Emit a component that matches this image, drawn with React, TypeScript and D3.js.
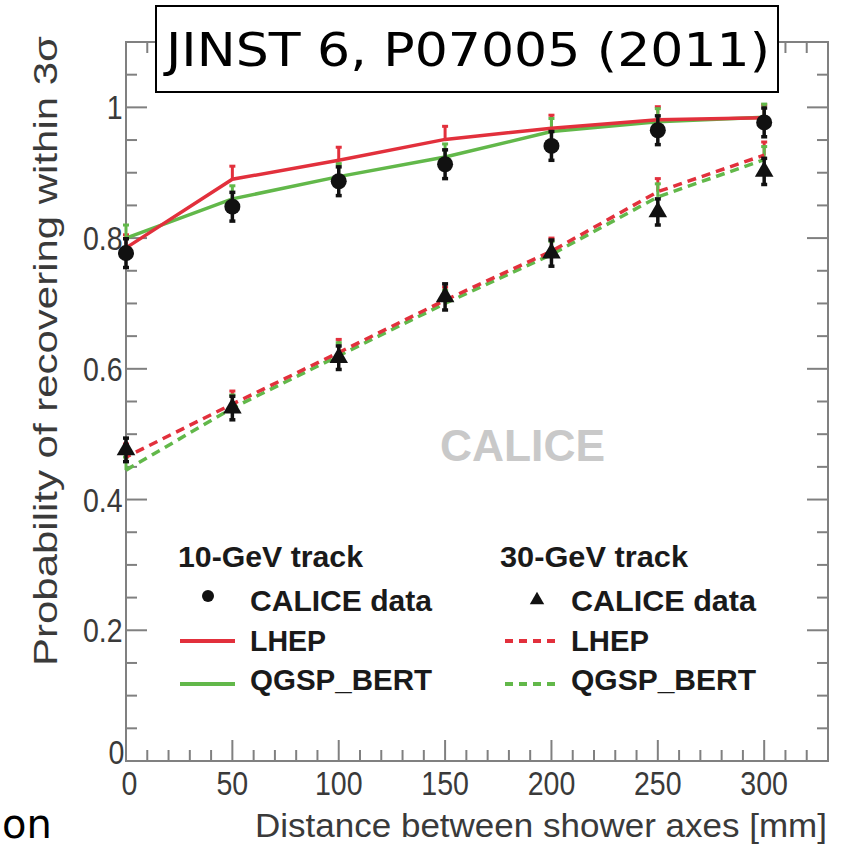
import React from 'react';
import * as d3 from 'd3';

// distance between shower axes [mm]
const distances = [0, 50, 100, 150, 200, 250, 300];

// 10-GeV track
const data10 = [0.777, 0.848, 0.887, 0.913, 0.941, 0.965, 0.977];
const data10Err = [0.022, 0.022, 0.022, 0.022, 0.022, 0.022, 0.022];
const lhep10 = [0.785, 0.89, 0.919, 0.951, 0.968, 0.981, 0.984];
const qgsp10 = [0.8, 0.86, 0.894, 0.924, 0.963, 0.978, 0.985];

// 30-GeV track
const data30 = [0.476, 0.54, 0.617, 0.71, 0.777, 0.84, 0.902];
const data30Err = [0.018, 0.018, 0.018, 0.02, 0.02, 0.02, 0.02];
const lhep30 = [0.465, 0.546, 0.625, 0.705, 0.78, 0.871, 0.927];
const qgsp30 = [0.445, 0.54, 0.62, 0.7, 0.775, 0.863, 0.92];

const simErr = [0.02, 0.02, 0.02, 0.02, 0.02, 0.02, 0.02];

const yTickLabels = ['0', '0.2', '0.4', '0.6', '0.8', '1'];
const xTickLabels = ['0', '50', '100', '150', '200', '250', '300'];

const RED = '#e2303c';
const GREEN = '#62b84a';
const AXIS = '#808080';
const LABEL = '#3a3a3a';
const FONT = '"Liberation Sans", Arial, sans-serif';

export default function App() {
  const width = 844;
  const height = 850;

  const x = d3.scaleLinear().domain([0, 330]).range([126, 828]);
  const y = d3.scaleLinear().domain([0, 1.1]).range([761, 42]);

  const [x0, x1] = x.range();
  const [yb, yt] = y.range();

  const line = d3
    .line<number>()
    .x((_, i) => x(distances[i]))
    .y((d) => y(d));

  const xMinor = d3.range(0, 331, 10);
  const yMinor = d3.range(0, 1.101, 0.05);

  const errBar = (vals: number[], errs: number[], color: string, w: number, key: string, up = true, down = true) =>
    vals.map((v, i) => {
      const cx = x(distances[i]);
      const top = y(v + (up ? errs[i] : 0));
      const bot = y(v - (down ? errs[i] : 0));
      return (
        <g key={`${key}-${i}`} stroke={color} strokeWidth={w}>
          <line x1={cx} x2={cx} y1={top} y2={bot} />
          {up && <line x1={cx - 3} x2={cx + 3} y1={top} y2={top} />}
          {down && <line x1={cx - 3} x2={cx + 3} y1={bot} y2={bot} />}
        </g>
      );
    });

  const tri = d3.symbol(d3.symbolTriangle, 150)();
  const triSmall = d3.symbol(d3.symbolTriangle, 90)();

  return (
    <svg
      width={width}
      height={height}
      viewBox={`0 0 ${width} ${height}`}
      style={{ position: 'absolute', left: 0, top: 0, background: '#fff' }}
    >
      {/* frame */}
      <rect x={x0} y={yt} width={x1 - x0} height={yb - yt} fill="none" stroke={AXIS} strokeWidth={2} />

      {/* x ticks, bottom and top */}
      {xMinor.map((t) => {
        const major = t % 50 === 0;
        const len = major ? 21 : 11;
        return (
          <g key={`xt${t}`} stroke={AXIS} strokeWidth={2}>
            <line x1={x(t)} x2={x(t)} y1={yb} y2={yb - len} />
            <line x1={x(t)} x2={x(t)} y1={yt} y2={yt + len} />
          </g>
        );
      })}

      {/* y ticks, left and right */}
      {yMinor.map((t, i) => {
        const major = i % 4 === 0;
        const len = major ? 21 : 11;
        return (
          <g key={`yt${i}`} stroke={AXIS} strokeWidth={2}>
            <line x1={x0} x2={x0 + len} y1={y(t)} y2={y(t)} />
            <line x1={x1} x2={x1 - len} y1={y(t)} y2={y(t)} />
          </g>
        );
      })}

      {/* y tick labels */}
      {yTickLabels.map((l, i) => (
        <text
          key={`yl${l}`}
          x={i === 0 ? x0 - 2 : x0 - 4}
          y={y(i * 0.2) + (i === 0 ? 3 : 12)}
          textAnchor="end"
          fontFamily={FONT}
          fontSize={34}
          fill={LABEL}
          transform={`translate(${x0},0) scale(0.84,1) translate(${-x0},0)`}
        >
          {l}
        </text>
      ))}

      {/* x tick labels */}
      {xTickLabels.map((l, i) => (
        <text
          key={`xl${l}`}
          x={x(distances[i]) + (i === 0 ? 4 : 0)}
          y={795}
          textAnchor="middle"
          fontFamily={FONT}
          fontSize={34}
          fill={LABEL}
          transform={`translate(${x(distances[i])},0) scale(0.84,1) translate(${-x(distances[i])},0)`}
        >
          {l}
        </text>
      ))}

      {/* axis titles */}
      <text x={255} y={837} fontFamily={FONT} fontSize={34} fill={LABEL} textLength={572} lengthAdjust="spacingAndGlyphs">
        Distance between shower axes [mm]
      </text>
      <text
        transform="translate(57,666) rotate(-90)"
        fontFamily={FONT}
        fontSize={34}
        fill={LABEL}
        textLength={630}
        lengthAdjust="spacingAndGlyphs"
      >
        Probability of recovering within 3σ
      </text>

      {/* watermark */}
      <text x={440} y={461} fontFamily={FONT} fontWeight="bold" fontSize={44} fill="#c9c9c9" textLength={165} lengthAdjust="spacingAndGlyphs">
        CALICE
      </text>

      {/* simulation error bars */}
      {errBar(lhep10, simErr, RED, 3, 'el10', true, false)}
      {errBar(qgsp10, simErr, GREEN, 3, 'eq10', true, false)}
      {errBar(lhep30, simErr, RED, 3, 'el30', true, false)}
      {errBar(qgsp30, simErr, GREEN, 3, 'eq30', true, false)}

      {/* simulation curves */}
      <path d={line(qgsp10) ?? ''} fill="none" stroke={GREEN} strokeWidth={3.5} />
      <path d={line(lhep10) ?? ''} fill="none" stroke={RED} strokeWidth={3.5} />
      <path d={line(qgsp30) ?? ''} fill="none" stroke={GREEN} strokeWidth={3.5} strokeDasharray="9 6" />
      <path d={line(lhep30) ?? ''} fill="none" stroke={RED} strokeWidth={3.5} strokeDasharray="9 6" strokeDashoffset={4} />

      {/* data */}
      {errBar(data10, data10Err, '#111', 3.5, 'd10')}
      {errBar(data30, data30Err, '#111', 3.5, 'd30')}
      {data10.map((v, i) => (
        <circle key={`c${i}`} cx={x(distances[i])} cy={y(v)} r={8} fill="#111" />
      ))}
      {data30.map((v, i) => (
        <path key={`t${i}`} d={tri ?? ''} transform={`translate(${x(distances[i])},${y(v)})`} fill="#111" />
      ))}

      {/* legend */}
      <g fontFamily={FONT} fontWeight="bold" fontSize={30} fill="#1a1a1a">
        <text x={178} y={567} textLength={185} lengthAdjust="spacingAndGlyphs">10-GeV track</text>
        <circle cx={208} cy={596} r={6} fill="#111" />
        <text x={250} y={611} textLength={182} lengthAdjust="spacingAndGlyphs">CALICE data</text>
        <line x1={180} x2={235} y1={641} y2={641} stroke={RED} strokeWidth={4} />
        <text x={250} y={651} textLength={76} lengthAdjust="spacingAndGlyphs">LHEP</text>
        <line x1={180} x2={235} y1={684} y2={684} stroke={GREEN} strokeWidth={4} />
        <text x={250} y={690} textLength={182} lengthAdjust="spacingAndGlyphs">QGSP_BERT</text>

        <text x={500} y={567} textLength={188} lengthAdjust="spacingAndGlyphs">30-GeV track</text>
        <path d={triSmall ?? ''} transform="translate(537,600)" fill="#111" />
        <text x={571} y={611} textLength={185} lengthAdjust="spacingAndGlyphs">CALICE data</text>
        <line x1={505} x2={560} y1={641} y2={641} stroke={RED} strokeWidth={4} strokeDasharray="8 6" />
        <text x={571} y={651} textLength={78} lengthAdjust="spacingAndGlyphs">LHEP</text>
        <line x1={505} x2={560} y1={684} y2={684} stroke={GREEN} strokeWidth={4} strokeDasharray="8 6" />
        <text x={571} y={690} textLength={185} lengthAdjust="spacingAndGlyphs">QGSP_BERT</text>
      </g>

      {/* reference box */}
      <rect x={156} y={6} width={622} height={86} fill="#fff" stroke="#000" strokeWidth={2} />
      <text
        x={166}
        y={66}
        fontFamily='"DejaVu Sans", sans-serif'
        fontSize={46}
        fill="#000"
        textLength={604}
        lengthAdjust="spacingAndGlyphs"
      >
        JINST 6, P07005 (2011)
      </text>

      {/* stray slide text */}
      <text x={2} y={838} fontFamily='"DejaVu Sans", sans-serif' fontSize={40} fill="#000">
        on
      </text>
    </svg>
  );
}
